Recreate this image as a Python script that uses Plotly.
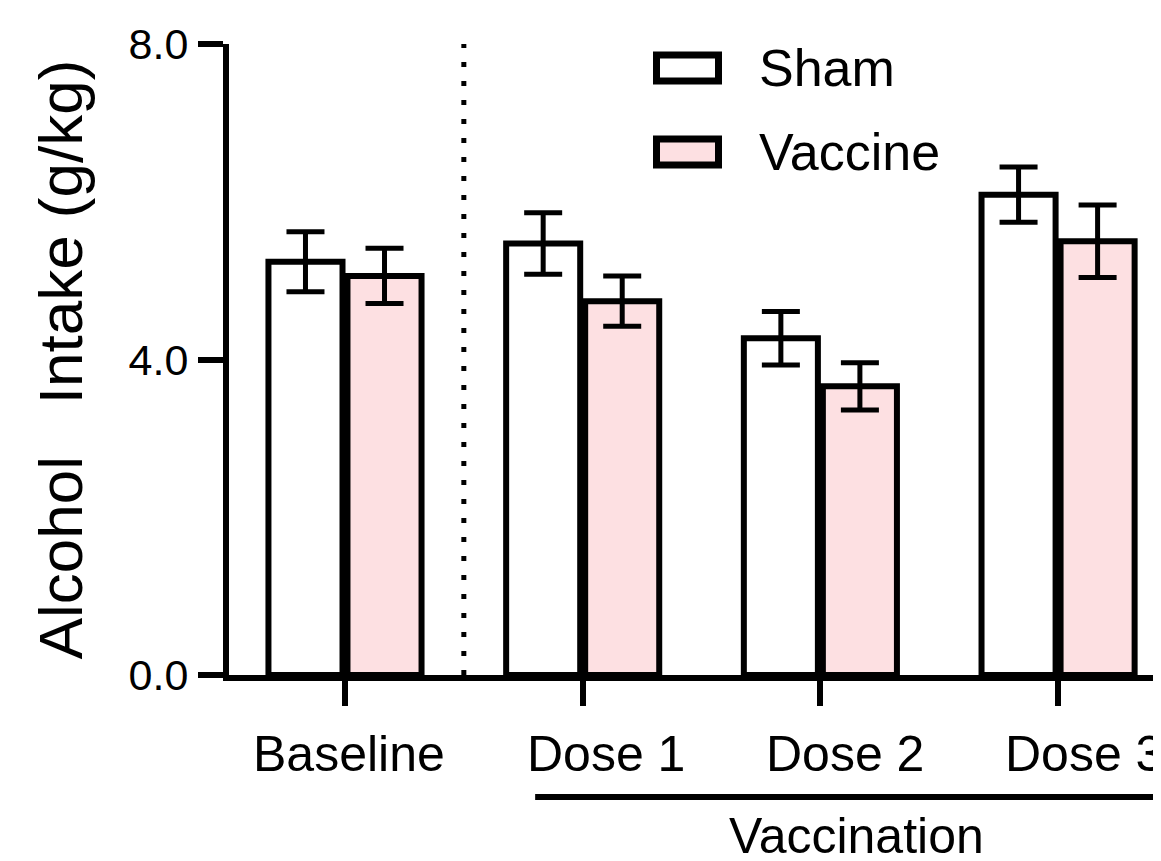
import plotly.graph_objects as go

categories = ["Baseline", "Dose 1", "Dose 2", "Dose 3"]
sham_values = [5.24, 5.47, 4.27, 6.09]
sham_errors = [0.38, 0.39, 0.34, 0.35]
vaccine_values = [5.06, 4.74, 3.66, 5.50]
vaccine_errors = [0.35, 0.32, 0.30, 0.46]
series_names = ["Sham", "Vaccine"]
y_tick_values = [0, 4, 8]
y_tick_labels = ["0.0", "4.0", "8.0"]
y_title = "Alcohol   Intake (g/kg)"
group_label = "Vaccination"

# styling / placement (pixels)
label_xshift = [4, 23, 25, 26]
FONT = "Liberation Sans, Arial, sans-serif"
PINK = "#fde0e2"
OFF = 8  # page body margin
W, H = 1161 - OFF, 861 - OFF
# plot area in screen pixels
PL, PR, PT, PB = 229, 1161, 44, 675
ML, MR, MT, MB = PL - OFF, (W + OFF) - PR, PT - OFF, (H + OFF) - PB
PW, PH = PR - PL, PB - PT


def px_x(p):
    return (p - PL) / PW


def px_y(p):
    return (PB - p) / PH


fig = go.Figure()
xs = list(range(len(categories)))
for name, vals, errs, fill in [
    (series_names[0], sham_values, sham_errors, "white"),
    (series_names[1], vaccine_values, vaccine_errors, PINK),
]:
    fig.add_trace(go.Bar(
        x=xs, y=vals, name=name,
        marker=dict(color=fill, line=dict(color="black", width=6)),
        error_y=dict(type="data", array=errs, visible=True,
                     color="black", thickness=5, width=19),
        showlegend=False,
    ))

# category labels (placed under each category tick)
for i, (cat, dx) in enumerate(zip(categories, label_xshift)):
    fig.add_annotation(text=cat, xref="x", yref="paper", x=i, xshift=dx,
                       y=px_y(754), xanchor="center", yanchor="middle",
                       showarrow=False, font=dict(family=FONT, size=50, color="black"))

# dotted separator between Baseline and doses
fig.add_shape(type="line", xref="x", yref="y", x0=0.5, x1=0.5, y0=0, y1=8,
              line=dict(color="black", width=5, dash="5px,14px"))
# vaccination bracket line
fig.add_shape(type="line", xref="x", yref="paper", x0=0.8, x1=3.41,
              y0=px_y(797), y1=px_y(797),
              line=dict(color="black", width=6))
fig.add_annotation(text=group_label, xref="x", yref="paper", x=2.15,
                   y=px_y(836), xanchor="center", yanchor="middle",
                   showarrow=False, font=dict(family=FONT, size=50, color="black"))

# legend drawn manually
legend_rows = [(series_names[0], "white", 68), (series_names[1], PINK, 152)]
for name, fill, cy in legend_rows:
    fig.add_shape(type="rect", xref="paper", yref="paper",
                  x0=px_x(656.5), x1=px_x(718.5),
                  y0=px_y(cy + 13), y1=px_y(cy - 13),
                  fillcolor=fill, line=dict(color="black", width=7))
    fig.add_annotation(text=name, xref="paper", yref="paper",
                       x=px_x(757), y=px_y(cy), xanchor="left", yanchor="middle",
                       showarrow=False, font=dict(family=FONT, size=52, color="black"))

fig.update_layout(
    width=W, height=H,
    margin=dict(l=ML, r=MR, t=MT, b=MB, autoexpand=False),
    paper_bgcolor="white", plot_bgcolor="white",
    barmode="group", bargap=0.335, bargroupgap=0.063,
    font=dict(family=FONT, color="black"),
    showlegend=False,
)
fig.update_xaxes(
    range=[-0.488, 3.433], tickmode="array", tickvals=xs, ticktext=categories,
    showticklabels=False,
    showgrid=False, zeroline=False, showline=True, linecolor="black", linewidth=6,
    ticks="outside", ticklen=25, tickwidth=6, tickcolor="black",
    fixedrange=True,
)
fig.update_yaxes(
    range=[0, 8], tickmode="array", tickvals=y_tick_values, ticktext=y_tick_labels,
    showgrid=False, zeroline=False, showline=True, linecolor="black", linewidth=6,
    ticks="outside", ticklen=25, tickwidth=6, tickcolor="black",
    tickfont=dict(family=FONT, size=43, color="black"),
    ticklabelstandoff=1,
    title=dict(text=y_title, font=dict(family=FONT, size=62, color="black"), standoff=28),
    fixedrange=True,
)

fig.write_html("out.html", config={"displayModeBar": False})
